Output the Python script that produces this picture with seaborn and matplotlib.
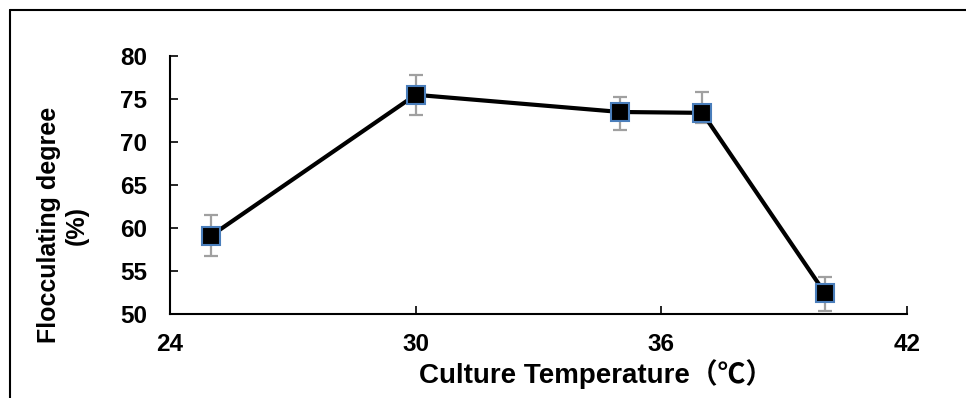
import matplotlib
matplotlib.use("Agg")
import matplotlib.pyplot as plt
import seaborn as sns
import pandas as pd
from matplotlib.lines import Line2D

temperature = [25, 30, 35, 37, 40]
flocculating = [59.1, 75.5, 73.5, 73.4, 52.4]
err_low = [2.4, 2.3, 2.1, 1.2, 2.0]
err_high = [2.4, 2.3, 1.7, 2.4, 1.9]
xticks = [24, 30, 36, 42]
yticks = [50, 55, 60, 65, 70, 75, 80]

sns.set_theme(style="white")
plt.rcParams['font.family'] = ['Liberation Sans', 'Noto Sans CJK SC', 'DejaVu Sans']
plt.rcParams['font.weight'] = 'bold'
plt.rcParams['text.color'] = 'black'
plt.rcParams['axes.labelcolor'] = 'black'
plt.rcParams['xtick.color'] = 'black'
plt.rcParams['ytick.color'] = 'black'

df = pd.DataFrame({"Temperature": temperature, "Flocculating": flocculating})

fig = plt.figure(figsize=(9.66, 3.98), dpi=100)
ax = fig.add_axes([0.176, 0.211, 0.763, 0.648])

ax.errorbar(temperature, flocculating, yerr=[err_low, err_high], fmt='none',
            ecolor='#a0a0a0', elinewidth=1.6, capsize=5, capthick=1.6, zorder=2)
sns.lineplot(data=df, x="Temperature", y="Flocculating", ax=ax, color='black',
             linewidth=3, marker='s', markersize=13, markerfacecolor='black',
             markeredgecolor='#4a7ebb', markeredgewidth=1.5, zorder=3)

ax.set_xlim(24, 42)
ax.set_ylim(50, 80)
ax.set_xticks(xticks)
ax.set_yticks(yticks)
ax.set_xticklabels([str(t) for t in xticks], fontsize=17.5, fontweight='bold')
ax.set_yticklabels([str(t) for t in yticks], fontsize=17.5, fontweight='bold')
ax.tick_params(axis='both', direction='in', length=6, width=1.2, color='black',
               bottom=True, left=True)
ax.tick_params(axis='x', pad=14)
ax.tick_params(axis='y', pad=16.5)

for s in ['top', 'right']:
    ax.spines[s].set_visible(False)
for s in ['left', 'bottom']:
    ax.spines[s].set_color('black')
    ax.spines[s].set_linewidth(1.5)

ax.set_xlabel("Culture Temperature（℃）", fontsize=20, fontweight='bold')
ax.xaxis.label.set_va('center')
ax.xaxis.set_label_coords(0.578, -0.232)
ax.set_ylabel("Flocculating degree\n(%)", fontsize=18, fontweight='bold',
              linespacing=1.2)
ax.yaxis.label.set_va('center')
ax.yaxis.set_label_coords(-0.146, 0.345)

# outer frame (cropped on right and bottom)
fig.add_artist(Line2D([10/966, 1.0], [1-10/398, 1-10/398], color='black', lw=1.5,
                      transform=fig.transFigure))
fig.add_artist(Line2D([10/966, 10/966], [0.0, 1-10/398], color='black', lw=1.5,
                      transform=fig.transFigure))

fig.savefig("out.png", dpi=100, facecolor='white')
